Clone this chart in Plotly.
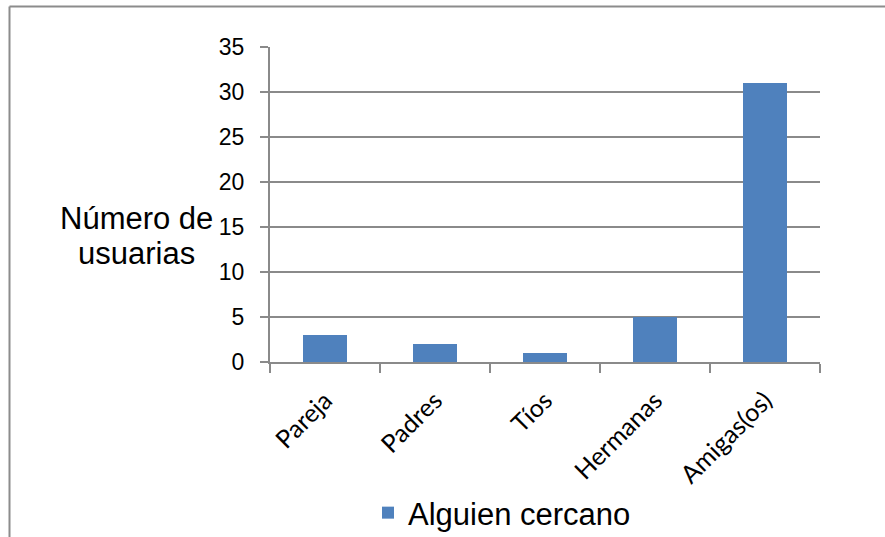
import plotly.graph_objects as go

# Who the users first turned to
categories = ["Pareja", "Padres", "Tíos", "Hermanas", "Amigas(os)"]
values = [3, 2, 1, 5, 31]
series_name = "Alguien cercano"
y_title_lines = ["Número de", "usuarias"]
y_ticks = [0, 5, 10, 15, 20, 25, 30, 35]

W, H = 885, 537
L, R, T, B = 270, 65, 47, 175
PW, PH = W - L - R, H - T - B


def px_x(px):
    return (px - L) / PW


def px_y(py):
    return (H - B - py) / PH


GRID = "#8a8a8a"
BLUE = "#4f81bd"

fig = go.Figure()
fig.add_trace(go.Bar(
    x=categories, y=values, name=series_name,
    marker=dict(color=BLUE, line=dict(width=0)),
    showlegend=True,
))

# outer chart frame (top and left edges visible)
frame_left, frame_top = px_x(9.5), px_y(6.5)
fig.add_shape(type="line", xref="paper", yref="paper",
              x0=frame_left, y0=frame_top, x1=px_x(900), y1=frame_top,
              line=dict(color="#8c8c8c", width=2))
fig.add_shape(type="line", xref="paper", yref="paper",
              x0=frame_left, y0=frame_top, x1=frame_left, y1=px_y(560),
              line=dict(color="#8c8c8c", width=2))

# horizontal y-axis caption, one annotation per line for tighter leading
for i, line in enumerate(y_title_lines):
    fig.add_annotation(text=line, xref="paper", yref="paper",
                       x=px_x(136), y=px_y(218 + 35 * i),
                       xanchor="center", yanchor="middle",
                       showarrow=False, align="center",
                       font=dict(family="Liberation Sans, Arial", size=31, color="black"))

fig.update_layout(
    width=W, height=H,
    margin=dict(l=L, r=R, t=T, b=B, autoexpand=False),
    paper_bgcolor="white", plot_bgcolor="white",
    bargap=0.6,
    font=dict(family="Liberation Sans, Arial", color="black"),
    legend=dict(orientation="h", x=px_x(368), y=px_y(513),
                xanchor="left", yanchor="middle",
                font=dict(family="Liberation Sans, Arial", size=31, color="black"),
                bgcolor="rgba(0,0,0,0)"),
)

fig.update_xaxes(
    type="category", showgrid=False, showline=True, linecolor=GRID, linewidth=2,
    ticks="outside", tickson="boundaries", ticklen=9, tickcolor=GRID, tickwidth=2,
    tickangle=-45, ticklabelstandoff=12,
    tickfont=dict(family="Lato", size=25, color="black"),
)
fig.update_yaxes(
    range=[0, 35], tickvals=y_ticks, showgrid=True, gridcolor=GRID, gridwidth=2,
    showline=True, linecolor=GRID, linewidth=2, zeroline=False,
    ticks="outside", ticklen=8, tickcolor=GRID, tickwidth=2,
    ticklabelstandoff=11,
    tickfont=dict(family="Liberation Sans, Arial", size=23, color="black"),
)

fig.write_html("out.html")
